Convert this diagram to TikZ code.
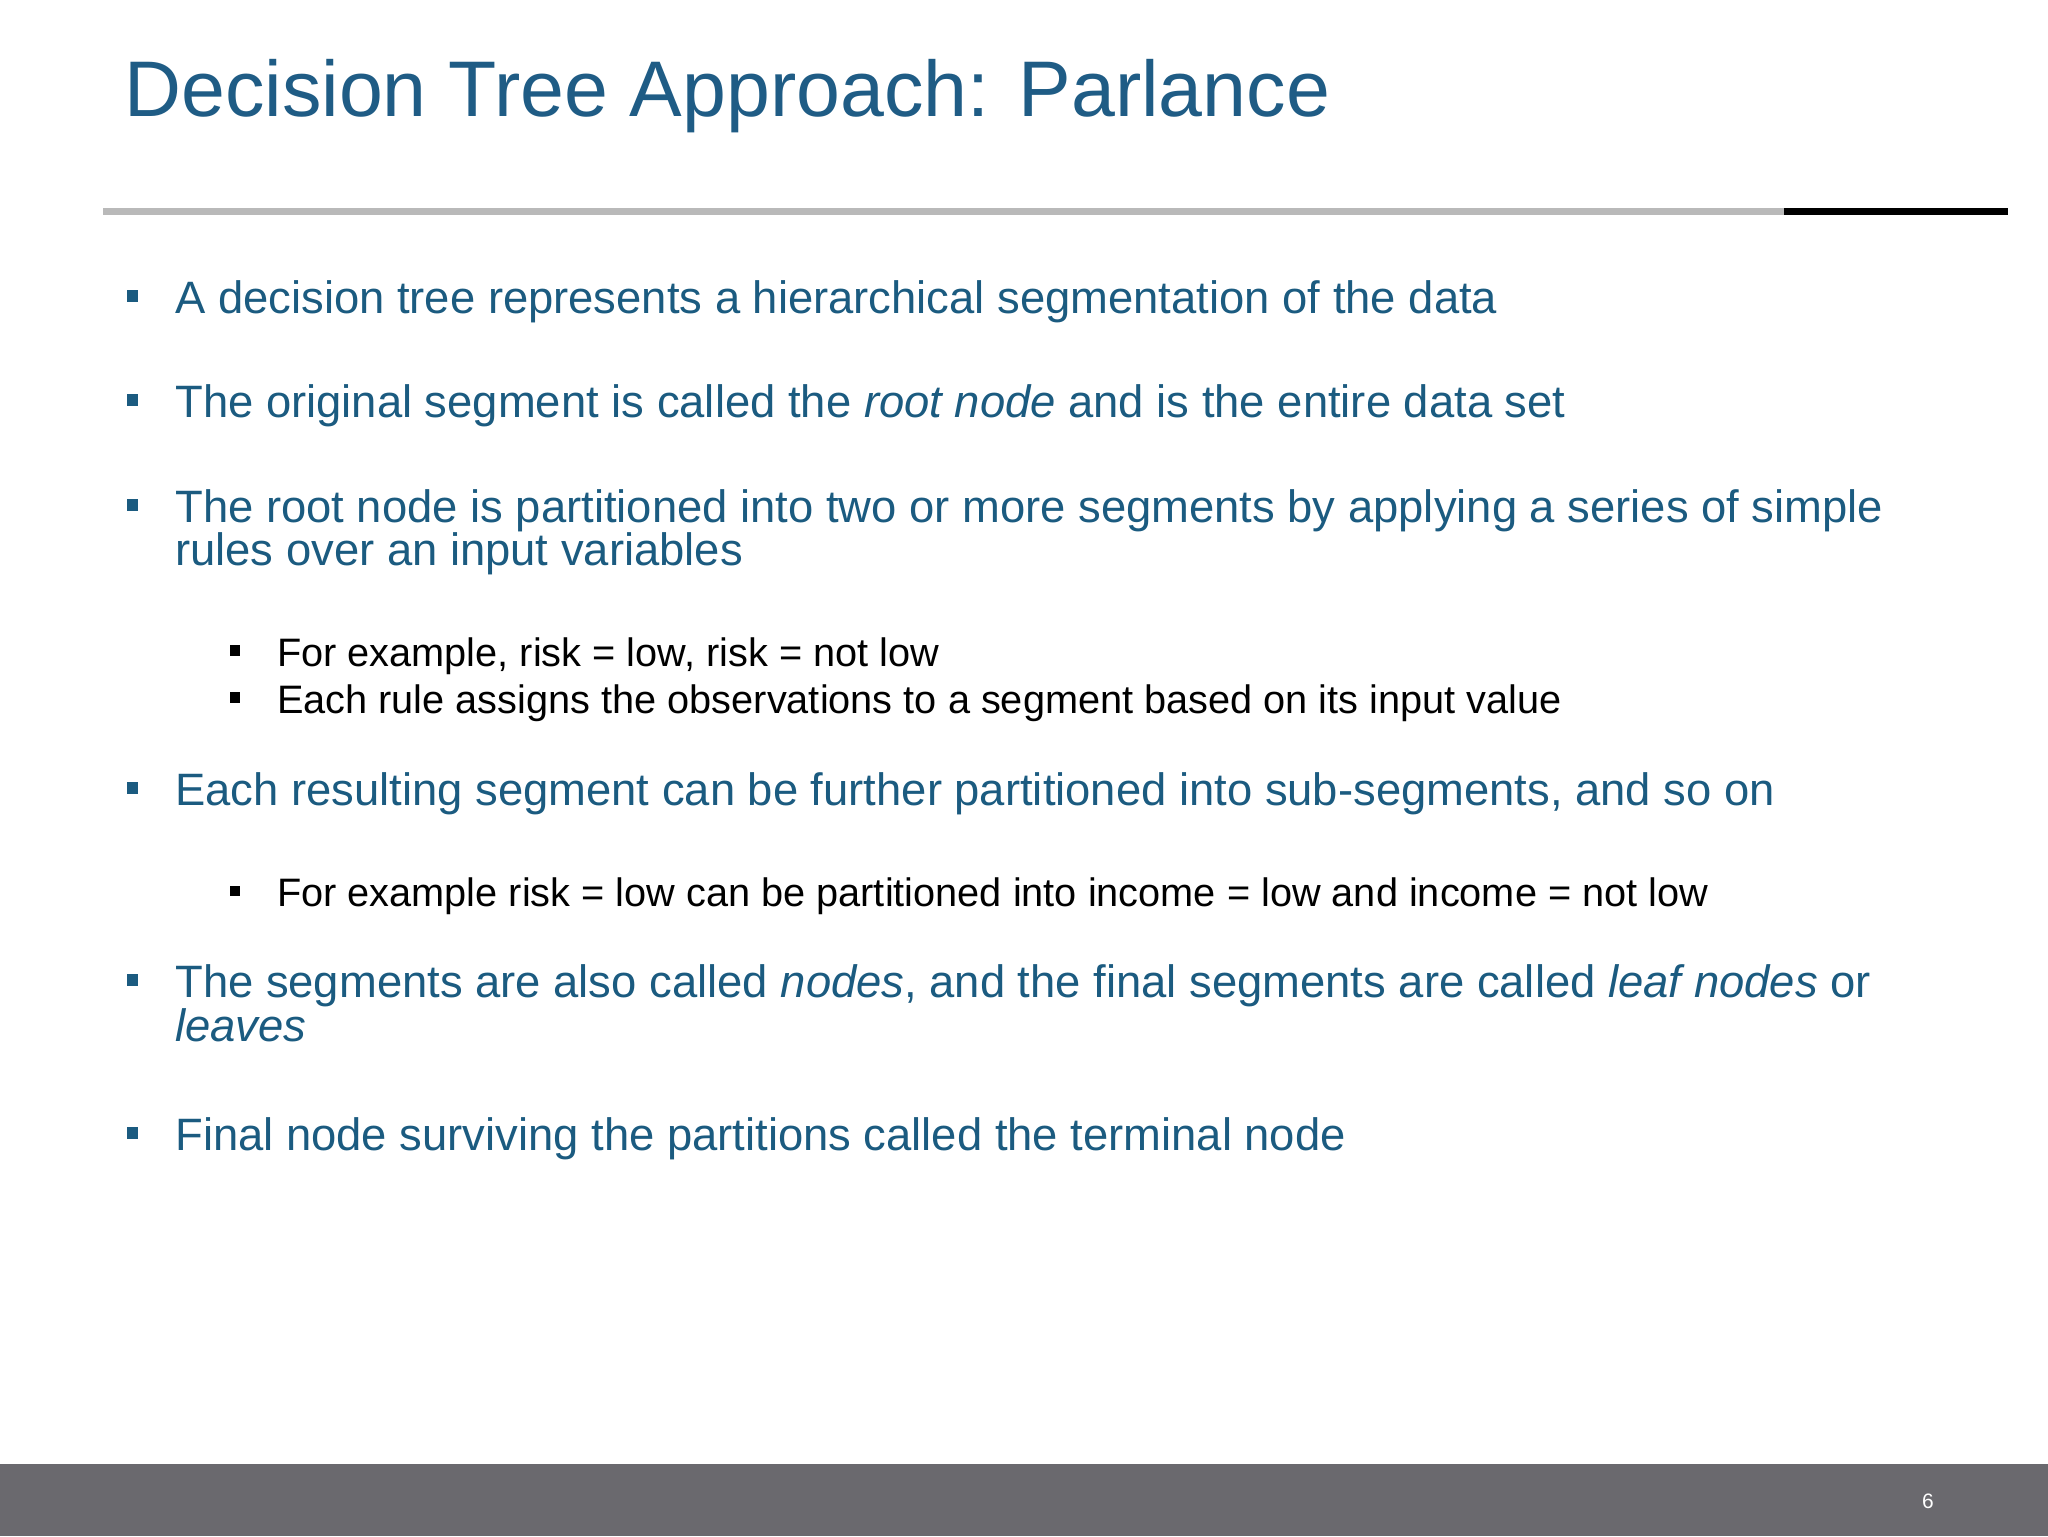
\documentclass[tikz,border=0pt]{standalone}
\usepackage{fontspec}
\setmainfont{Liberation Sans}
\definecolor{tblue}{HTML}{1F5C85}
\definecolor{bblue}{HTML}{1B5B80}
\definecolor{foot}{HTML}{6A696E}
\begin{document}
\begin{tikzpicture}[x=1pt,y=-1pt,
  mainb/.style={anchor=base west,inner sep=0pt,text=bblue,font=\fontsize{34.75}{36}\selectfont},
  subb/.style={anchor=base west,inner sep=0pt,text=black,font=\fontsize{30.4}{32}\selectfont},
  sqm/.style={fill=bblue},
  sqs/.style={fill=black}]
\useasboundingbox (0,0) rectangle (1568,1176);
\fill[white] (0,0) rectangle (1568,1176);
\node[anchor=base west,inner sep=0pt,text=tblue,font=\fontsize{60.4}{62}\selectfont] (title) at (95,89) {Decision Tree Approach: Parlance};
\fill[gray!55] (79,159.5) rectangle (1366,164.5);
\fill[black] (1366,159.5) rectangle (1537,164.5);
\foreach \y in {240,320,400,617,764,881} {\fill[sqm] (97,\y-18) rectangle (106,\y-9);}
\foreach \y in {510,546,694} {\fill[sqs] (176,\y-16) rectangle (184,\y-8);}
\node[mainb] (b1) at (134,240) {A decision tree represents a hierarchical segmentation of the data};
\node[mainb] (b2) at (134,320) {The original segment is called the \textit{root node} and is the entire data set};
\node[mainb] (b3) at (134,400) {The root node is partitioned into two or more segments by applying a series of simple};
\node[mainb] (b3b) at (134,433) {rules over an input variables};
\node[subb] (s1) at (212,510) {For example, risk = low, risk = not low};
\node[subb] (s2) at (212,546) {Each rule assigns the observations to a segment based on its input value};
\node[mainb] (b4) at (134,617) {Each resulting segment can be further partitioned into sub-segments, and so on};
\node[subb] (s3) at (212,694) {For example risk = low can be partitioned into income = low and income = not low};
\node[mainb] (b5) at (134,764) {The segments are also called \textit{nodes}, and the final segments are called \textit{leaf nodes} or};
\node[mainb] (b5b) at (134,797) {\textit{leaves}};
\node[mainb] (b6) at (134,881) {Final node surviving the partitions called the terminal node};
\fill[foot] (0,1121) rectangle (1568,1176);
\node[anchor=base,inner sep=0pt,text=white,font=\fontsize{16}{18}\selectfont] (pg) at (1476,1155) {6};
\end{tikzpicture}
\end{document}
